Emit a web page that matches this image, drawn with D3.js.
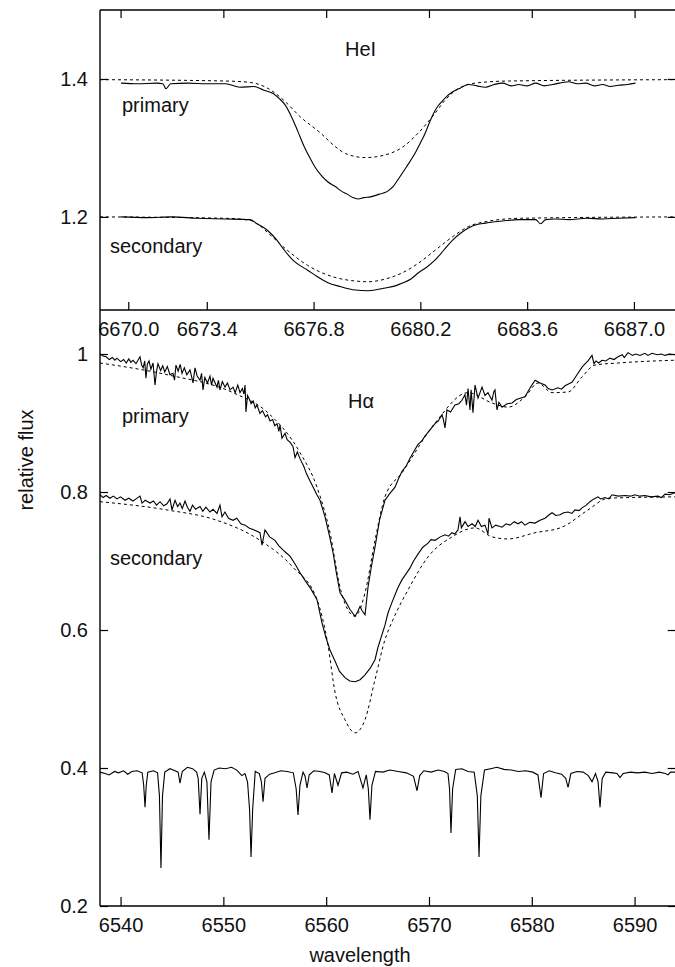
<!DOCTYPE html>
<html>
<head>
<meta charset="utf-8">
<script src="https://cdn.jsdelivr.net/npm/d3@7"></script>
<style>
  body { margin: 0; background: #fff; }
  text { font-family: "Liberation Sans", Arial, sans-serif; fill: #111; }
</style>
</head>
<body>
<svg id="chart"></svg>
<script>
// HeI 6678 panel (top), [wavelength, relative flux]
const heiPrimaryObs = [[6670.67,1.394],[6671.2,1.393],[6671.8,1.394],[6672.0,1.393],[6672.10,1.386],[6672.25,1.393],
  [6672.8,1.394],[6673.4,1.393],[6674.0,1.393],[6674.46,1.388],[6674.9,1.389],[6675.2,1.384],[6675.51,1.379],
  [6675.70,1.372],[6675.90,1.362],[6676.10,1.345],[6676.30,1.324],[6676.50,1.302],[6676.69,1.285],[6676.85,1.272],
  [6677.01,1.262],[6677.25,1.251],[6677.49,1.244],[6677.70,1.237],[6677.87,1.233],[6678.05,1.228],[6678.22,1.226],
  [6678.40,1.228],[6678.61,1.229],[6678.90,1.233],[6679.15,1.237],[6679.35,1.245],[6679.50,1.255],[6679.75,1.272],
  [6680.04,1.293],[6680.20,1.307],[6680.36,1.322],[6680.50,1.338],[6680.62,1.350],[6680.75,1.360],[6680.90,1.368],
  [6681.05,1.375],[6681.22,1.381],[6681.48,1.387],[6681.73,1.392],[6682.0,1.390],[6682.27,1.388],[6682.55,1.392],
  [6682.82,1.394],[6683.10,1.390],[6683.33,1.392],[6683.60,1.390],[6683.87,1.394],[6684.15,1.390],[6684.41,1.392],
  [6684.92,1.396],[6685.20,1.393],[6685.46,1.394],[6685.75,1.390],[6686.00,1.392],[6686.25,1.389],[6686.51,1.391],
  [6686.80,1.392],[6687.05,1.394]]
const heiPrimaryModel = [[6670.0,1.399],[6674.0,1.397],[6674.78,1.395],[6675.32,1.387],[6675.83,1.370],[6676.38,1.345],
  [6677.01,1.322],[6677.49,1.302],[6677.81,1.292],[6678.45,1.286],[6679.09,1.290],[6679.63,1.301],[6680.14,1.322],
  [6680.68,1.351],[6681.00,1.370],[6681.41,1.386],[6681.95,1.394],[6683.0,1.397],[6688.33,1.399]]
const heiSecondaryObs = [[6670.67,1.200],[6671.5,1.199],[6672.3,1.200],[6673.1,1.198],[6674.0,1.197],[6674.78,1.196],
  [6675.00,1.190],[6675.32,1.181],[6675.60,1.168],[6675.83,1.154],[6676.15,1.137],[6676.35,1.130],[6676.60,1.123],
  [6676.90,1.114],[6677.24,1.105],[6677.65,1.099],[6678.13,1.094],[6678.54,1.093],[6679.09,1.097],[6679.40,1.100],
  [6679.63,1.104],[6679.90,1.110],[6680.14,1.119],[6680.40,1.127],[6680.68,1.138],[6680.95,1.152],[6681.22,1.166],
  [6681.50,1.177],[6681.73,1.184],[6682.0,1.189],[6682.27,1.191],[6682.82,1.194],[6683.33,1.196],[6683.87,1.196],
  [6684.03,1.190],[6684.19,1.196],[6684.5,1.197],[6684.92,1.196],[6685.5,1.198],[6686.00,1.197],[6686.5,1.198],
  [6687.05,1.199]]
const heiSecondaryModel = [[6670.0,1.200],[6674.0,1.198],[6674.78,1.195],[6675.00,1.190],[6675.51,1.170],[6676.06,1.148],
  [6676.60,1.130],[6677.43,1.113],[6678.13,1.107],[6678.54,1.106],[6679.09,1.110],[6679.63,1.119],[6680.14,1.133],
  [6680.68,1.152],[6681.22,1.171],[6681.73,1.186],[6682.27,1.193],[6683.39,1.198],[6688.33,1.200]]

// H-alpha panel (bottom)
const haPrimaryObs = [[6538.00,1.000],[6538.3,0.997],[6538.6,0.996],[6538.9,0.992],[6539.2,0.995],[6539.45,0.991],
  [6539.65,0.994],[6540.0,0.989],[6540.3,0.992],[6540.55,0.987],[6540.8,0.993],[6541.0,0.988],[6541.21,0.991],
  [6541.5,0.986],[6541.89,0.996],[6542.05,0.984],[6542.20,0.980],[6542.35,0.990],[6542.47,0.965],[6542.6,0.985],
  [6542.77,0.990],[6542.95,0.978],[6543.16,0.987],[6543.35,0.955],[6543.5,0.975],[6543.64,0.986],[6543.9,0.976],
  [6544.1,0.983],[6544.3,0.974],[6544.55,0.982],[6544.8,0.970],[6545.10,0.972],[6545.25,0.962],[6545.39,0.984],
  [6545.6,0.975],[6545.8,0.985],[6545.98,0.972],[6546.2,0.980],[6546.45,0.970],[6546.75,0.977],[6546.9,0.968],
  [6547.05,0.958],[6547.24,0.980],[6547.45,0.968],[6547.73,0.962],[6547.88,0.972],[6548.02,0.948],[6548.2,0.966],
  [6548.45,0.958],[6548.70,0.968],[6548.85,0.955],[6548.99,0.965],[6549.2,0.958],[6549.38,0.952],[6549.52,0.962],
  [6549.67,0.948],[6549.9,0.960],[6550.16,0.952],[6550.4,0.958],[6550.65,0.948],[6550.94,0.952],[6551.15,0.944],
  [6551.4,0.955],[6551.62,0.944],[6551.85,0.950],[6552.0,0.942],[6552.11,0.955],[6552.20,0.916],[6552.35,0.940],
  [6552.49,0.936],[6552.7,0.928],[6552.9,0.932],[6553.1,0.922],[6553.27,0.926],[6553.56,0.914],[6553.8,0.918],
  [6554.1,0.909],[6554.3,0.912],[6554.54,0.903],[6554.8,0.905],[6555.0,0.896],[6555.22,0.899],[6555.4,0.888],
  [6555.51,0.897],[6555.70,0.878],[6556.00,0.885],[6556.2,0.876],[6556.5,0.872],[6556.77,0.866],[6556.97,0.850],
  [6557.2,0.858],[6557.46,0.848],[6557.8,0.838],[6558.1,0.826],[6558.43,0.816],[6558.8,0.805],[6559.1,0.796],
  [6559.40,0.788],[6559.89,0.764],[6560.3,0.738],[6560.67,0.712],[6561.0,0.682],[6561.35,0.654],[6561.83,0.643],
  [6562.3,0.630],[6562.81,0.620],[6563.05,0.626],[6563.29,0.634],[6563.5,0.628],[6563.78,0.622],[6564.07,0.662],
  [6564.4,0.692],[6564.75,0.720],[6565.2,0.760],[6565.72,0.788],[6566.2,0.798],[6566.70,0.807],[6567.0,0.818],
  [6567.38,0.830],[6567.8,0.838],[6568.16,0.849],[6568.5,0.858],[6568.93,0.869],[6569.3,0.874],[6569.61,0.881],
  [6570.1,0.890],[6570.59,0.899],[6570.9,0.903],[6571.27,0.912],[6571.4,0.905],[6571.56,0.893],[6571.75,0.919],
  [6572.1,0.916],[6572.53,0.926],[6572.9,0.928],[6573.21,0.933],[6573.5,0.941],[6573.65,0.926],[6573.80,0.950],
  [6573.99,0.919],[6574.1,0.948],[6574.28,0.915],[6574.48,0.955],[6574.77,0.936],[6575.16,0.952],[6575.45,0.940],
  [6575.74,0.944],[6576.13,0.933],[6576.3,0.945],[6576.42,0.948],[6576.62,0.919],[6576.8,0.930],[6577.11,0.923],
  [6577.6,0.928],[6578.08,0.929],[6578.5,0.934],[6578.86,0.936],[6579.34,0.938],[6579.8,0.950],[6580.32,0.962],
  [6580.80,0.958],[6581.29,0.955],[6581.6,0.950],[6581.97,0.948],[6582.55,0.951],[6582.9,0.949],[6583.23,0.954],
  [6583.91,0.959],[6584.4,0.970],[6584.89,0.981],[6585.2,0.986],[6585.47,0.990],[6585.86,0.998],[6586.05,0.986],
  [6586.25,0.990],[6586.5,0.987],[6586.83,0.991],[6587.2,0.990],[6587.61,0.994],[6588.0,0.992],[6588.39,0.996],
  [6588.8,0.999],[6589.0,0.995],[6589.36,1.002],[6589.8,0.998],[6590.1,1.000],[6590.53,0.998],[6591.0,1.001],
  [6591.3,0.998],[6591.70,1.001],[6592.2,0.999],[6592.6,1.000],[6592.96,0.998],[6593.4,1.000],[6593.93,0.999]]
const haPrimaryModel = [[6538.00,0.987],[6544.52,0.970],[6550.94,0.944],[6554.25,0.916],[6557.46,0.857],[6559.11,0.807],
  [6560.37,0.741],[6561.35,0.662],[6562.12,0.629],[6562.81,0.620],[6563.78,0.654],[6564.75,0.730],[6565.72,0.793],
  [6567.38,0.828],[6570.59,0.900],[6573.80,0.944],[6576.13,0.929],[6577.69,0.923],[6579.34,0.938],[6580.61,0.958],
  [6581.97,0.944],[6583.53,0.945],[6584.89,0.967],[6586.15,0.984],[6588.39,0.987],[6593.93,0.991]]
const haSecondaryObs = [[6538.00,0.796],[6538.3,0.792],[6538.6,0.795],[6538.97,0.791],[6539.3,0.794],[6539.65,0.790],
  [6540.0,0.793],[6540.43,0.788],[6540.8,0.791],[6541.21,0.787],[6541.5,0.790],[6541.89,0.794],[6542.09,0.784],
  [6542.4,0.788],[6542.86,0.784],[6543.2,0.787],[6543.5,0.781],[6543.84,0.786],[6544.2,0.780],[6544.52,0.783],
  [6544.81,0.790],[6545.00,0.774],[6545.30,0.788],[6545.55,0.779],[6545.78,0.784],[6546.0,0.776],[6546.27,0.787],
  [6546.5,0.778],[6546.75,0.772],[6547.0,0.781],[6547.3,0.775],[6547.73,0.779],[6548.0,0.772],[6548.3,0.778],
  [6548.70,0.771],[6549.0,0.775],[6549.38,0.769],[6549.67,0.781],[6549.87,0.764],[6550.16,0.771],[6550.5,0.762],
  [6550.94,0.759],[6551.3,0.762],[6551.7,0.754],[6552.11,0.752],[6552.5,0.748],[6553.0,0.745],[6553.56,0.741],
  [6553.76,0.723],[6554.05,0.745],[6554.5,0.735],[6555.02,0.730],[6555.4,0.722],[6555.80,0.716],[6556.1,0.712],
  [6556.48,0.707],[6557.0,0.695],[6557.46,0.683],[6557.94,0.672],[6558.5,0.660],[6559.11,0.644],[6559.60,0.610],
  [6560.0,0.588],[6560.37,0.571],[6560.86,0.555],[6561.3,0.540],[6561.83,0.531],[6562.3,0.526],[6562.81,0.525],
  [6563.3,0.528],[6563.78,0.535],[6564.3,0.545],[6564.75,0.557],[6565.04,0.575],[6565.72,0.607],[6566.02,0.625],
  [6566.4,0.640],[6566.70,0.651],[6567.0,0.662],[6567.38,0.673],[6567.8,0.682],[6568.16,0.690],[6568.5,0.700],
  [6568.93,0.710],[6569.4,0.720],[6569.91,0.726],[6570.2,0.731],[6570.59,0.730],[6571.1,0.735],[6571.56,0.738],
  [6571.9,0.736],[6572.24,0.741],[6572.5,0.739],[6572.82,0.745],[6573.02,0.764],[6573.15,0.748],[6573.31,0.752],
  [6573.51,0.757],[6573.8,0.750],[6574.19,0.754],[6574.5,0.750],[6574.77,0.759],[6575.1,0.750],[6575.45,0.752],
  [6575.74,0.739],[6575.84,0.762],[6576.13,0.748],[6576.5,0.752],[6577.11,0.749],[6577.5,0.754],[6577.88,0.752],
  [6578.3,0.757],[6578.66,0.754],[6579.0,0.757],[6579.34,0.752],[6579.8,0.756],[6580.32,0.755],[6580.8,0.759],
  [6581.29,0.762],[6581.6,0.766],[6581.97,0.770],[6582.35,0.766],[6582.75,0.767],[6583.1,0.770],[6583.53,0.771],
  [6583.9,0.769],[6584.21,0.774],[6584.6,0.773],[6584.89,0.777],[6585.3,0.781],[6585.66,0.786],[6586.05,0.790],
  [6586.44,0.793],[6586.7,0.790],[6587.12,0.792],[6587.5,0.790],[6587.81,0.796],[6588.4,0.794],[6589.07,0.795],
  [6589.6,0.794],[6590.04,0.796],[6590.5,0.794],[6591.01,0.795],[6591.6,0.793],[6592.28,0.794],[6592.6,0.792],
  [6592.96,0.797],[6593.4,0.796],[6593.93,0.799]]
const haSecondaryModel = [[6538.00,0.786],[6544.52,0.774],[6549.38,0.759],[6553.56,0.730],[6556.77,0.691],[6559.11,0.644],
  [6560.18,0.578],[6560.86,0.510],[6561.83,0.470],[6562.81,0.451],[6563.78,0.470],[6564.75,0.528],[6565.72,0.586],
  [6566.50,0.615],[6567.96,0.658],[6569.91,0.706],[6572.24,0.735],[6574.48,0.748],[6576.13,0.735],[6577.69,0.732],
  [6580.32,0.741],[6582.94,0.749],[6585.47,0.774],[6587.42,0.791],[6593.93,0.793]]
// telluric comparison spectrum
const haTelluric = [[6538.0,0.394],[6538.5,0.392],[6538.9,0.390],[6539.4,0.395],[6539.8,0.393],[6540.3,0.396],[6540.7,0.391],
  [6541.1,0.395],[6541.6,0.396],[6542.1,0.393],[6542.25,0.375],[6542.38,0.343],[6542.5,0.375],[6542.65,0.394],[6543.2,0.396],
  [6543.6,0.393],[6543.78,0.360],[6543.93,0.255],[6544.08,0.360],[6544.3,0.394],[6544.8,0.399],[6545.3,0.396],[6545.6,0.394],
  [6545.78,0.378],[6546.0,0.395],[6546.5,0.401],[6547.0,0.399],[6547.4,0.394],[6547.55,0.385],[6547.73,0.333],[6547.9,0.385],
  [6548.15,0.394],[6548.4,0.380],[6548.6,0.296],[6548.8,0.380],[6549.1,0.397],[6549.6,0.400],[6550.2,0.399],[6550.8,0.401],
  [6551.3,0.397],[6551.8,0.389],[6552.1,0.392],[6552.35,0.380],[6552.55,0.340],[6552.69,0.271],[6552.85,0.340],[6553.1,0.395],
  [6553.5,0.392],[6553.7,0.380],[6553.86,0.351],[6554.05,0.385],[6554.5,0.391],[6555.0,0.393],[6555.6,0.396],[6556.2,0.395],
  [6556.8,0.393],[6557.08,0.370],[6557.26,0.332],[6557.45,0.375],[6557.75,0.394],[6557.95,0.388],[6558.14,0.371],[6558.35,0.390],
  [6558.8,0.396],[6559.4,0.395],[6559.9,0.393],[6560.3,0.390],[6560.57,0.364],[6560.8,0.392],[6561.15,0.375],[6561.5,0.393],
  [6562.0,0.394],[6562.6,0.391],[6563.1,0.395],[6563.58,0.371],[6563.9,0.390],[6564.1,0.370],[6564.26,0.325],[6564.45,0.375],
  [6564.8,0.395],[6565.5,0.394],[6566.2,0.397],[6567.0,0.395],[6567.8,0.393],[6568.5,0.388],[6568.84,0.367],[6569.1,0.389],
  [6569.5,0.396],[6570.2,0.394],[6570.9,0.397],[6571.5,0.395],[6571.85,0.392],[6572.0,0.370],[6572.14,0.306],[6572.3,0.370],
  [6572.6,0.398],[6573.2,0.399],[6573.8,0.395],[6574.4,0.394],[6574.7,0.360],[6574.87,0.271],[6575.05,0.360],[6575.4,0.397],
  [6576.0,0.399],[6576.6,0.401],[6577.3,0.398],[6578.0,0.397],[6578.7,0.395],[6579.4,0.396],[6580.1,0.394],[6580.6,0.390],
  [6580.9,0.357],[6581.15,0.392],[6581.7,0.396],[6582.3,0.393],[6582.9,0.391],[6583.3,0.385],[6583.53,0.372],[6583.8,0.392],
  [6584.4,0.395],[6585.0,0.394],[6585.5,0.389],[6585.86,0.380],[6586.2,0.392],[6586.45,0.380],[6586.64,0.343],[6586.85,0.385],
  [6587.2,0.394],[6587.9,0.393],[6588.3,0.392],[6588.58,0.386],[6588.9,0.392],[6589.6,0.394],[6590.3,0.393],[6591.0,0.394],
  [6591.7,0.392],[6592.4,0.394],[6593.0,0.392],[6593.25,0.390],[6593.5,0.394],[6593.93,0.394]]

// ticks
const heiTickPos = [6670.9, 6673.4, 6676.8, 6680.2, 6683.6, 6687.0]
const heiTickLabels = ["6670.0", "6673.4", "6676.8", "6680.2", "6683.6", "6687.0"]
const heiYTicks = [1.2, 1.4]
const haXTicks = [6540, 6550, 6560, 6570, 6580, 6590]
const haYTicks = [0.2, 0.4, 0.6, 0.8, 1.0]

const width = 675, height = 967
const left = 100, right = 675.7
const top1 = 10, mid = 310, bottom = 906
const fontSize = "20px"

const svg = d3.select("#chart").attr("width", width).attr("height", height)

const xHa = d3.scaleLinear().domain([6538, 6594]).range([left, right])
const xHe = d3.scaleLinear().domain([6670, 6688.33]).range([left, right])
const yHe = d3.scaleLinear().domain([1.065, 1.5]).range([mid, top1])
const yHa = d3.scaleLinear().domain([0.2, 1.0638]).range([bottom, mid])

function drawLine(data, x, y, dashed, smooth) {
    const line = d3.line()
        .x(d => x(d[0]))
        .y(d => y(d[1]))
        .curve(smooth ? d3.curveMonotoneX : d3.curveLinear)
    svg.append("path")
        .datum(data)
        .attr("d", line)
        .attr("fill", "none")
        .attr("stroke", "#000")
        .attr("stroke-width", dashed ? 1 : 1.1)
        .attr("stroke-dasharray", dashed ? "3,3" : null)
}

function styleAxis(g) {
    g.select(".domain").remove()
    g.selectAll(".tick line").attr("stroke", "#000").attr("stroke-width", 1.2)
    g.selectAll("text").style("font-size", fontSize).style("font-family", "Liberation Sans, Arial, sans-serif").attr("fill", "#111")
}

// curves
drawLine(heiPrimaryModel, xHe, yHe, true, true)
drawLine(heiPrimaryObs, xHe, yHe, false, true)
drawLine(heiSecondaryModel, xHe, yHe, true, true)
drawLine(heiSecondaryObs, xHe, yHe, false, true)

drawLine(haPrimaryModel, xHa, yHa, true, true)
drawLine(haPrimaryObs, xHa, yHa, false, false)
drawLine(haSecondaryModel, xHa, yHa, true, true)
drawLine(haSecondaryObs, xHa, yHa, false, false)
drawLine(haTelluric, xHa, yHa, false, false)

// axes, top panel
svg.append("g").attr("transform", `translate(0,${mid})`)
    .call(d3.axisBottom(xHe).tickValues(heiTickPos).tickSize(-8).tickPadding(12)
        .tickFormat((d, i) => heiTickLabels[i]))
    .call(styleAxis)
svg.append("g").attr("transform", `translate(0,${top1})`)
    .call(d3.axisTop(xHa).tickValues(haXTicks).tickSize(-8).tickFormat(""))
    .call(styleAxis)
svg.append("g").attr("transform", `translate(${left},0)`)
    .call(d3.axisLeft(yHe).tickValues(heiYTicks).tickSize(-8).tickPadding(12).tickFormat(d3.format(".1f")))
    .call(styleAxis)
svg.append("g").attr("transform", `translate(${right},0)`)
    .call(d3.axisRight(yHe).tickValues(heiYTicks).tickSize(-8).tickFormat(""))
    .call(styleAxis)

// axes, bottom panel
svg.append("g").attr("transform", `translate(0,${bottom})`)
    .call(d3.axisBottom(xHa).tickValues(haXTicks).tickSize(-9).tickPadding(12).tickFormat(d3.format("d")))
    .call(styleAxis)
svg.append("g").attr("transform", `translate(${left},0)`)
    .call(d3.axisLeft(yHa).tickValues(haYTicks).tickSize(-8).tickPadding(12).tickFormat(d => d === 1 ? "1" : d3.format(".1f")(d)))
    .call(styleAxis)
svg.append("g").attr("transform", `translate(${right},0)`)
    .call(d3.axisRight(yHa).tickValues(haYTicks).tickSize(-8).tickFormat(""))
    .call(styleAxis)

// frame
const frame = [[left, top1, right, top1], [left, mid, right, mid], [left, bottom, right, bottom], [left, top1, left, bottom]]
svg.selectAll("line.frame").data(frame).join("line")
    .attr("class", "frame")
    .attr("x1", d => d[0]).attr("y1", d => d[1]).attr("x2", d => d[2]).attr("y2", d => d[3])
    .attr("stroke", "#000").attr("stroke-width", 1.4)

// labels
const labels = [
    {t: "HeI", x: 345, y: 56},
    {t: "primary", x: 122, y: 112},
    {t: "secondary", x: 110, y: 253},
    {t: "Hα", x: 348, y: 408},
    {t: "primary", x: 122, y: 423},
    {t: "secondary", x: 110, y: 565}
]
svg.selectAll("text.lbl").data(labels).join("text")
    .attr("class", "lbl")
    .attr("x", d => d.x).attr("y", d => d.y)
    .style("font-size", fontSize)
    .text(d => d.t)

svg.append("text")
    .attr("text-anchor", "middle")
    .attr("x", 360).attr("y", 962)
    .style("font-size", fontSize)
    .text("wavelength")

svg.append("text")
    .attr("text-anchor", "middle")
    .attr("transform", "rotate(-90)")
    .attr("x", -460).attr("y", 33)
    .style("font-size", fontSize)
    .text("relative flux")
</script>
</body>
</html>
